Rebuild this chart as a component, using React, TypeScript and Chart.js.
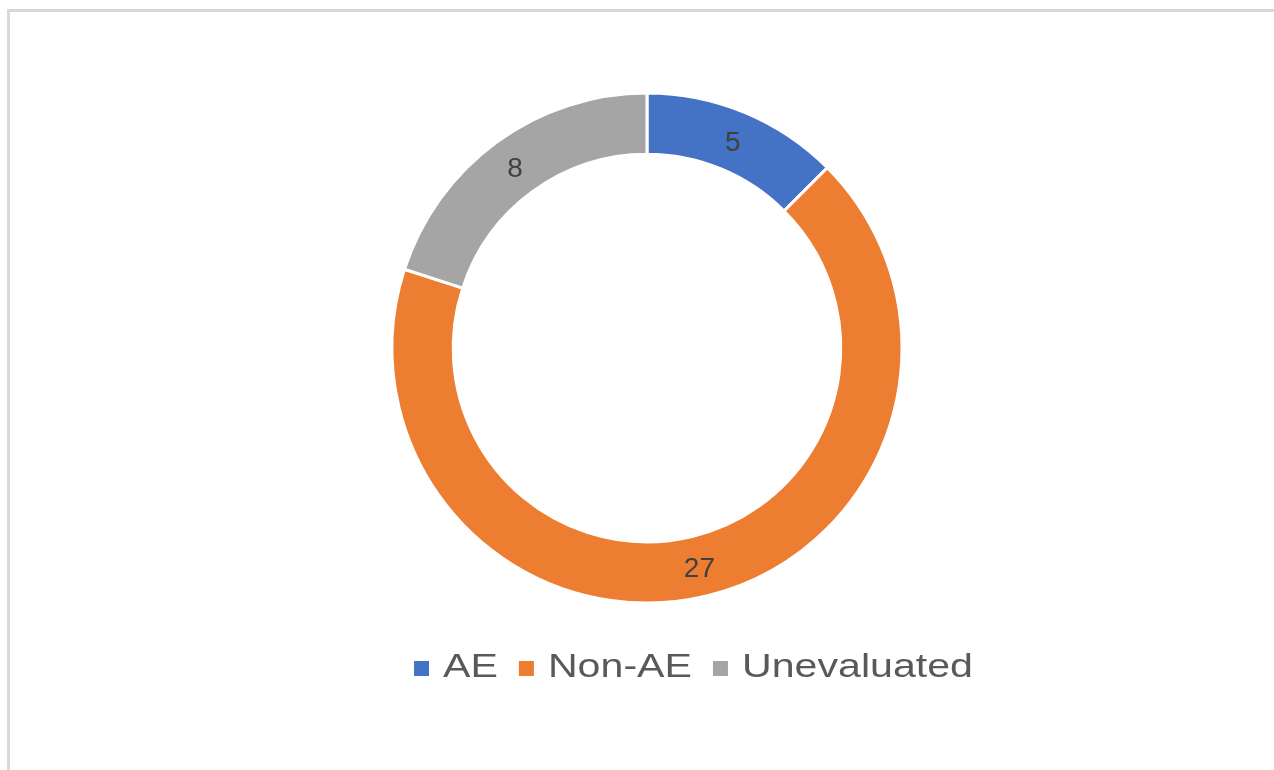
import React, { useEffect, useRef } from "react";
import { Chart, registerables } from "chart.js";

Chart.register(...registerables);

const categories = ["AE", "Non-AE", "Unevaluated"];
const counts = [5, 27, 8];
const colors = ["#4472C4", "#ED7D31", "#A5A5A5"];

const sliceLabels = {
  id: "sliceLabels",
  afterDatasetsDraw(chart: any) {
    const ctx = chart.ctx;
    const meta = chart.getDatasetMeta(0);
    const data = chart.data.datasets[0].data;
    ctx.save();
    ctx.font = '28px "Liberation Sans", Arial, sans-serif';
    ctx.fillStyle = "#404040";
    ctx.textAlign = "center";
    ctx.textBaseline = "middle";
    meta.data.forEach((arc: any, i: number) => {
      const p = arc.tooltipPosition();
      ctx.fillText(String(data[i]), p.x, p.y + 3);
    });
    ctx.restore();
  },
};

const customLegend = {
  id: "customLegend",
  afterDraw(chart: any) {
    const ctx = chart.ctx;
    const labels: string[] = chart.data.labels;
    const bg: string[] = chart.data.datasets[0].backgroundColor;
    const sx = 1.21;
    const box = 15;
    const boxGap = 14;
    const itemGap = 21;
    const baseline = 677;
    const centerX = 693.5;
    ctx.save();
    ctx.font = '34px "Liberation Sans", Arial, sans-serif';
    const widths = labels.map((l) => ctx.measureText(l).width * sx);
    const total =
      widths.reduce((a, b) => a + b, 0) +
      labels.length * (box + boxGap) +
      (labels.length - 1) * itemGap;
    let x = centerX - total / 2;
    labels.forEach((l, i) => {
      ctx.fillStyle = bg[i];
      ctx.fillRect(x, 661, box, box);
      x += box + boxGap;
      ctx.save();
      ctx.translate(x, baseline);
      ctx.scale(sx, 1);
      ctx.fillStyle = "#595959";
      ctx.textBaseline = "alphabetic";
      ctx.fillText(l, 0, 0);
      ctx.restore();
      x += widths[i] + itemGap;
    });
    ctx.restore();
  },
};

export default function App() {
  const ref = useRef<HTMLCanvasElement>(null);
  useEffect(() => {
    if (!ref.current) return;
    const chart = new Chart(ref.current, {
      type: "doughnut",
      data: {
        labels: categories,
        datasets: [
          {
            data: counts,
            backgroundColor: colors,
            borderColor: "#ffffff",
            borderWidth: 3,
          },
        ],
      },
      options: {
        responsive: false,
        animation: false,
        radius: 255,
        cutout: "76%",
        layout: { padding: { left: 392, right: 372, top: 93, bottom: 167 } },
        plugins: {
          legend: { display: false },
          tooltip: { enabled: false },
          title: { display: false },
        },
      },
      plugins: [sliceLabels, customLegend],
    });
    return () => chart.destroy();
  }, []);

  return (
    <div
      style={{
        position: "fixed",
        left: 0,
        top: 0,
        width: 1274,
        height: 770,
        overflow: "hidden",
        background: "#ffffff",
      }}
    >
      <div
        style={{
          position: "absolute",
          left: 7,
          top: 9,
          width: 1400,
          height: 900,
          borderLeft: "3px solid #d9d9d9",
          borderTop: "3px solid #d9d9d9",
        }}
      />
      <canvas
        ref={ref}
        width={1274}
        height={770}
        style={{ position: "absolute", left: 0, top: 0 }}
      />
    </div>
  );
}
